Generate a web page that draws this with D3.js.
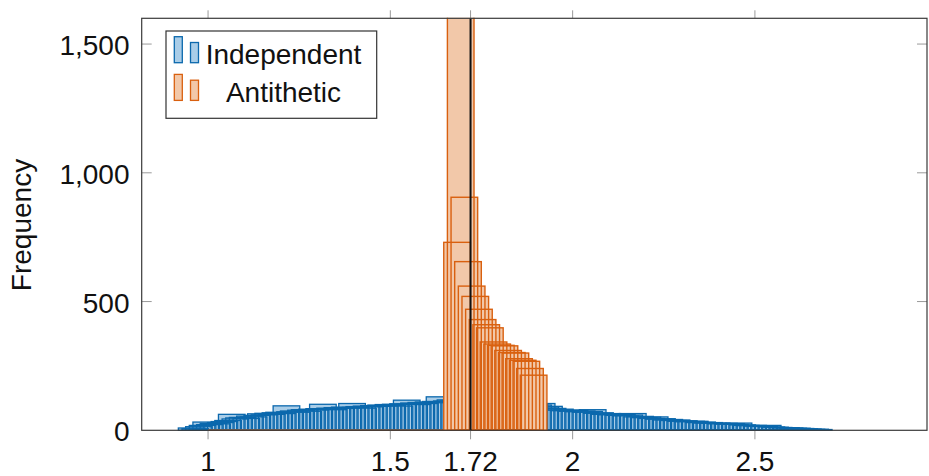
<!DOCTYPE html>
<html>
<head>
<meta charset="utf-8">
<script src="https://cdn.jsdelivr.net/npm/d3@7"></script>
<style>
  html, body { margin: 0; padding: 0; background: #fff; }
  svg { display: block; }
  text { font-family: "Liberation Sans", Arial, sans-serif; fill: #111; }
</style>
</head>
<body>
<svg id="chart" width="929" height="476"></svg>
<script>
// ---------------- data ----------------
const binStep = 0.01;
const independentStart = 0.955;   // centre of first bin
const independentCounts = [
  9,6,14,19,32,22,27,25,30,34,
  38,62,44,48,50,46,55,52,58,64,
  60,66,62,68,70,65,95,72,75,70,
  78,80,74,82,79,84,101,83,86,80,
  88,85,90,87,104,89,92,86,94,91,
  96,93,98,95,100,97,101,94,103,117,
  102,106,100,108,104,110,107,112,130,110,
  114,118,116,
  120,122,119,125,121,118,123,117,115,119,113,116,110,112,108,111,105,107,103,106,100,102,
  98,104,90,93,85,78,82,76,79,74,
  77,72,75,70,73,80,66,68,62,65,
  60,63,58,61,56,59,65,52,54,49,
  51,46,52,43,45,40,42,38,40,35,
  37,33,35,35,30,32,28,30,27,28,
  25,27,24,26,23,28,21,19,18,19,
  16,17,15,19,13,12,11,10,10,9,
  8,8,7,6,5,4,4,3
];
const antitheticStart = 1.683;
const antitheticCounts = [730,1680,905,655,560,520,470,430,410,398,343,335,330,328,310,302,300,278,272,268,240,214];
const trueValue = 1.72;
const seriesNames = ["Independent", "Antithetic"];
const xTicks = [1, 1.5, 1.72, 2, 2.5];
const xTickLabels = ["1", "1.5", "1.72", "2", "2.5"];
const yTicks = [0, 500, 1000, 1500];
const yTickLabels = ["0", "500", "1,000", "1,500"];
const yLabel = "Frequency";

// ---------------- layout ----------------
const barWidth = 0.073; // data units
const pL = 141.7, pR = 927, pT = 18.3, pB = 430.3;
const x = d3.scaleLinear().domain([0.818, 2.972]).range([pL, pR]);
const y = d3.scaleLinear().domain([0, 1600]).range([pB, pT]);

const blueStroke = "#0b68ad", blueFill = "#a9cde8";
const orangeStroke = "#d9600f", orangeFill = "#f2c8a9";

const svg = d3.select("#chart");
svg.append("rect").attr("width", 929).attr("height", 476).attr("fill", "#fff");

svg.append("defs").append("clipPath").attr("id", "plotclip")
  .append("rect").attr("x", pL).attr("y", pT - 0.5)
  .attr("width", pR - pL).attr("height", pB - pT + 2);

const plot = svg.append("g").attr("clip-path", "url(#plotclip)");

const indep = independentCounts.map((v, i) => ({c: independentStart + i * binStep, v}));
const anti = antitheticCounts.map((v, i) => ({c: antitheticStart + i * binStep, v}));

function drawSeries(data, fill, stroke, sw) {
  const g = plot.append("g");
  const rectAttrs = sel => sel
    .attr("x", d => x(d.c - barWidth / 2))
    .attr("width", d => x(d.c + barWidth / 2) - x(d.c - barWidth / 2))
    .attr("y", d => y(d.v))
    .attr("height", d => y(0) - y(d.v));
  g.append("g").selectAll("rect").data(data).join("rect")
    .call(rectAttrs).attr("fill", fill).attr("stroke", "none");
  g.append("g").selectAll("rect").data(data).join("rect")
    .call(rectAttrs).attr("fill", "none").attr("stroke", stroke)
    .attr("stroke-width", sw);
}
drawSeries(indep, blueFill, blueStroke, 1.3);
// baseline of the antithetic histogram (empty bins)
plot.append("line")
  .attr("x1", x(1.0)).attr("x2", x(antitheticStart - barWidth / 2))
  .attr("y1", y(0)).attr("y2", y(0))
  .attr("stroke", orangeStroke).attr("stroke-width", 1.5);
drawSeries(anti, orangeFill, orangeStroke, 1.4);

// true value line
svg.append("line")
  .attr("x1", x(trueValue)).attr("x2", x(trueValue))
  .attr("y1", y(0)).attr("y2", y(1600))
  .attr("stroke", "#111").attr("stroke-width", 2);

// ---------------- axes ----------------
const tickColor = "#9a9a9a";
const xt = svg.append("g");
xTicks.forEach((t, i) => {
  xt.append("line").attr("x1", x(t)).attr("x2", x(t)).attr("y1", pB).attr("y2", pB + 9)
    .attr("stroke", tickColor).attr("stroke-width", 1);
  xt.append("line").attr("x1", x(t)).attr("x2", x(t)).attr("y1", pT).attr("y2", pT - 8)
    .attr("stroke", tickColor).attr("stroke-width", 1);
  xt.append("text").attr("x", x(t)).attr("y", 471).attr("text-anchor", "middle")
    .attr("font-size", 28).text(xTickLabels[i]);
});
const yt = svg.append("g");
yTicks.forEach((t, i) => {
  if (t > 0) {
    yt.append("line").attr("x1", pL).attr("x2", pL + 10).attr("y1", y(t)).attr("y2", y(t))
      .attr("stroke", tickColor).attr("stroke-width", 1);
    yt.append("line").attr("x1", pR).attr("x2", pR - 10).attr("y1", y(t)).attr("y2", y(t))
      .attr("stroke", tickColor).attr("stroke-width", 1);
  }
  yt.append("text").attr("x", 129.5).attr("y", y(t) + 11).attr("text-anchor", "end")
    .attr("font-size", 28).text(yTickLabels[i]);
});

// frame
svg.append("rect").attr("x", pL).attr("y", pT)
  .attr("width", pR - pL).attr("height", pB - pT)
  .attr("fill", "none").attr("stroke", "#3a3a3a").attr("stroke-width", 1.2);

// y label
svg.append("text").attr("transform", "translate(31,225) rotate(-90)")
  .attr("text-anchor", "middle").attr("font-size", 28).text(yLabel);

// ---------------- legend ----------------
const lg = svg.append("g");
lg.append("rect").attr("x", 166).attr("y", 31).attr("width", 210.7).attr("height", 87.3)
  .attr("fill", "#fff").attr("stroke", "#333").attr("stroke-width", 1.2);
const legendItems = [
  {name: seriesNames[0], fill: blueFill, stroke: blueStroke, cy: 0},
  {name: seriesNames[1], fill: orangeFill, stroke: orangeStroke, cy: 37.7}
];
legendItems.forEach(it => {
  lg.append("rect").attr("x", 174.3).attr("y", 36.7 + it.cy).attr("width", 8).attr("height", 26)
    .attr("fill", it.fill).attr("stroke", it.stroke).attr("stroke-width", 1.3);
  lg.append("rect").attr("x", 190.5).attr("y", 42.5 + it.cy).attr("width", 8).attr("height", 20.2)
    .attr("fill", it.fill).attr("stroke", it.stroke).attr("stroke-width", 1.3);
  lg.append("text").attr("x", 283.5).attr("y", 64.3 + it.cy).attr("text-anchor", "middle")
    .attr("font-size", 28).text(it.name);
});
</script>
</body>
</html>
